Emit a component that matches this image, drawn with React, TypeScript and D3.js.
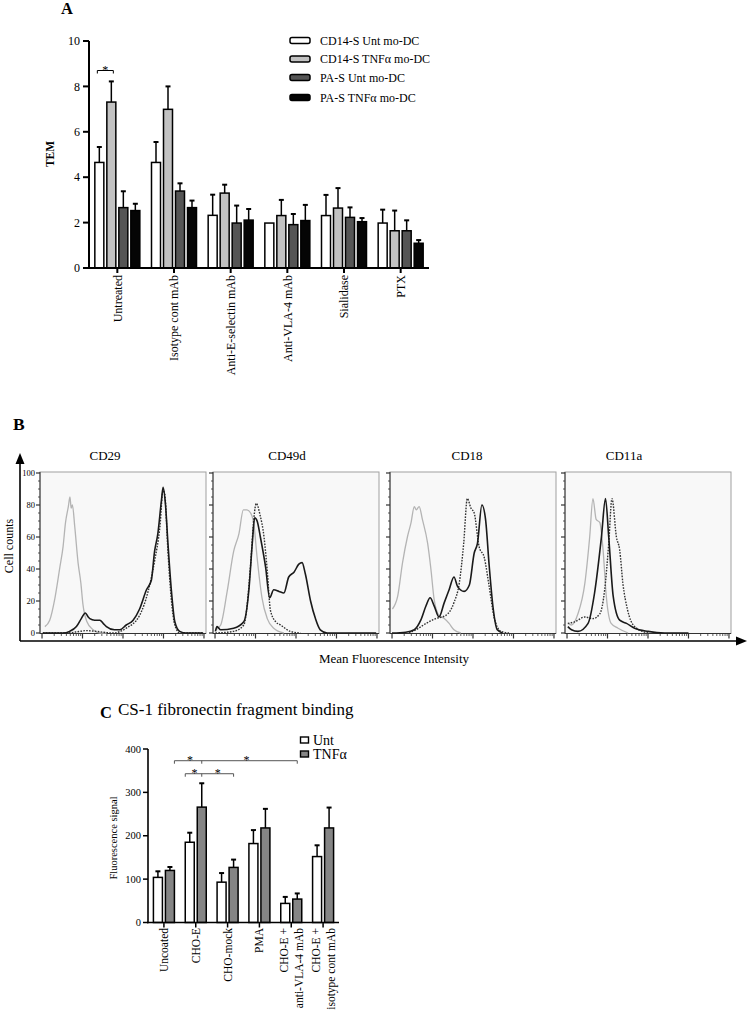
import React from "react";
import * as d3 from "d3";

const FONT = "'Liberation Serif','Times New Roman',Times,serif";

// ---------------- Panel A data ----------------
const aCategories = ["Untreated", "Isotype cont mAb", "Anti-E-selectin mAb", "Anti-VLA-4 mAb", "Sialidase", "PTX"];
const aSeries = ["CD14-S Unt mo-DC", "CD14-S TNFα mo-DC", "PA-S Unt mo-DC", "PA-S TNFα mo-DC"];
const aColors = ["#ffffff", "#c2c2c2", "#555555", "#050505"];
const aCd14Unt = [4.65, 4.65, 2.32, 1.98, 2.31, 1.98];
const aCd14Tnf = [7.31, 6.99, 3.3, 2.31, 2.64, 1.64];
const aPaUnt = [2.66, 3.39, 1.98, 1.91, 2.23, 1.64];
const aPaTnf = [2.53, 2.66, 2.11, 2.09, 2.04, 1.09];
const aCd14UntErr = [0.68, 0.9, 0.91, 0, 0.91, 0.59];
const aCd14TnfErr = [0.91, 1.01, 0.37, 0.69, 0.88, 0.89];
const aPaUntErr = [0.72, 0.34, 0.77, 0.47, 0.44, 0.46];
const aPaTnfErr = [0.3, 0.31, 0.49, 0.69, 0.16, 0.14];
const aYTicks = [0, 2, 4, 6, 8, 10];

// ---------------- Panel B data (x in log decades, y = cell counts) ----------------
const bPanels = ["CD29", "CD49d", "CD18", "CD11a"];
const bYTicks = [0, 20, 40, 60, 80, 100];
type P = [number, number];
const cd29Gray: P[] = [[0.07, 4], [0.19, 8], [0.32, 22], [0.44, 41], [0.52, 54], [0.58, 69], [0.65, 79], [0.69, 85], [0.72, 78], [0.75, 80], [0.81, 66], [0.89, 44], [0.96, 31], [1.01, 18], [1.11, 7], [1.26, 2], [1.43, 0], [1.6, 0]];
const cd29Solid: P[] = [[0.02, 0], [0.52, 0], [0.68, 1], [0.85, 4], [0.97, 9], [1.07, 12.5], [1.14, 10], [1.18, 9], [1.3, 8], [1.43, 8], [1.51, 6], [1.59, 4], [1.79, 2], [1.92, 2], [2.08, 5], [2.25, 8], [2.41, 15], [2.58, 27], [2.7, 33], [2.78, 51], [2.86, 62], [2.95, 83], [2.99, 91], [3.05, 80], [3.11, 56], [3.19, 28], [3.28, 7], [3.4, 1], [3.56, 0], [3.98, 0]];
const cd29Dotted: P[] = [[0.02, 0], [0.6, 0], [0.93, 1], [1.09, 1.5], [1.34, 1], [1.75, 0], [2.08, 3], [2.41, 11], [2.62, 26], [2.78, 45], [2.91, 66], [2.99, 89], [3.03, 87], [3.11, 51], [3.19, 22], [3.28, 5], [3.4, 0], [3.98, 0]];
const cd49dGray: P[] = [[0.02, 2], [0.14, 5], [0.3, 26], [0.46, 51], [0.59, 62], [0.7, 77], [0.79, 77], [0.88, 75], [0.96, 68], [1.04, 47], [1.16, 22], [1.29, 9], [1.45, 3], [1.7, 0]];
const cd49dSolid: P[] = [[0.01, 1], [0.05, 4], [0.14, 2], [0.46, 3], [0.71, 7], [0.84, 28], [0.92, 56], [0.98, 72], [1.04, 70], [1.12, 60], [1.25, 41], [1.35, 22], [1.45, 27], [1.58, 26], [1.7, 25], [1.82, 35], [1.95, 38], [2.07, 43], [2.15, 44], [2.23, 37], [2.36, 20], [2.48, 9], [2.6, 2], [2.77, 0], [3.98, 0]];
const cd49dDotted: P[] = [[0.01, 0], [0.46, 1], [0.71, 5], [0.88, 43], [0.96, 72], [1.02, 81], [1.11, 74], [1.21, 60], [1.29, 39], [1.37, 14], [1.5, 7], [1.62, 5], [1.86, 1], [2.11, 0]];
const cd18Gray: P[] = [[0.01, 15], [0.14, 23], [0.26, 44], [0.38, 60], [0.47, 69], [0.55, 79], [0.6, 77], [0.67, 79], [0.75, 71], [0.88, 56], [0.96, 40], [1.04, 21], [1.16, 11], [1.29, 9], [1.41, 6], [1.53, 2], [1.7, 0]];
const cd18Solid: P[] = [[0.0, 0], [0.34, 0.5], [0.55, 2], [0.71, 8], [0.84, 17], [0.94, 22], [1.04, 17], [1.16, 10], [1.29, 19], [1.41, 27], [1.53, 35], [1.62, 29], [1.78, 26], [1.91, 30], [2.03, 50], [2.11, 56], [2.22, 80], [2.31, 71], [2.4, 42], [2.5, 15], [2.6, 2], [2.73, 0]];
const cd18Dotted: P[] = [[0.42, 0], [0.59, 2], [0.84, 6], [1.08, 9], [1.33, 11], [1.53, 19], [1.66, 31], [1.77, 56], [1.86, 84], [1.95, 78], [2.03, 75], [2.15, 54], [2.28, 47], [2.4, 29], [2.52, 10], [2.69, 1], [2.89, 0]];
const cd11aGray: P[] = [[0.02, 6], [0.11, 5], [0.27, 12], [0.44, 31], [0.56, 60], [0.64, 84], [0.72, 71], [0.81, 69], [0.89, 52], [0.97, 23], [1.09, 6], [1.26, 3], [1.51, 0]];
const cd11aSolid: P[] = [[0.02, 4], [0.11, 2], [0.27, 1], [0.52, 6], [0.68, 25], [0.85, 60], [0.95, 84], [1.03, 60], [1.14, 23], [1.3, 8], [1.47, 6], [1.67, 3], [2.0, 1], [2.41, 0], [3.0, 0]];
const cd11aDotted: P[] = [[0.02, 6], [0.19, 7], [0.44, 10], [0.64, 9], [0.81, 12], [0.93, 27], [1.03, 56], [1.11, 84], [1.22, 60], [1.3, 52], [1.38, 31], [1.49, 15], [1.67, 4], [2.0, 0]];
const bGray = [cd29Gray, cd49dGray, cd18Gray, cd11aGray];
const bSolid = [cd29Solid, cd49dSolid, cd18Solid, cd11aSolid];
const bDotted = [cd29Dotted, cd49dDotted, cd18Dotted, cd11aDotted];

// ---------------- Panel C data ----------------
const cCategories = ["Uncoated", "CHO-E", "CHO-mock", "PMA", "CHO-E + anti-VLA-4 mAb", "CHO-E + isotype cont mAb"];
const cLabelLines = [["Uncoated"], ["CHO-E"], ["CHO-mock"], ["PMA"], ["CHO-E +", "anti-VLA-4 mAb"], ["CHO-E +", "isotype cont mAb"]];
const cSeries = ["Unt", "TNFα"];
const cUnt = [104, 185, 93, 182, 44, 152];
const cUntErr = [14, 22, 21, 31, 15, 26];
const cTnf = [120, 266, 127, 218, 54, 218];
const cTnfErr = [8, 55, 18, 44, 13, 47];
const cYTicks = [0, 100, 200, 300, 400];

function ErrBar({ cx, y0, y1, cap }: { cx: number; y0: number; y1: number; cap: number }) {
  return (
    <g>
      <line x1={cx} x2={cx} y1={y0} y2={y1} stroke="#000" strokeWidth={1.5} />
      <line x1={cx - cap} x2={cx + cap} y1={y1} y2={y1} stroke="#000" strokeWidth={2} />
    </g>
  );
}

function PanelA() {
  const x = d3.scaleBand<string>().domain(aCategories).range([89, 429]);
  const y = d3.scaleLinear().domain([0, 10]).range([268, 41]);
  const series = [aCd14Unt, aCd14Tnf, aPaUnt, aPaTnf];
  const errs = [aCd14UntErr, aCd14TnfErr, aPaUntErr, aPaTnfErr];
  const bw = 9;
  const step = 12;
  const cOf = (c: string) => (x(c) as number) + x.bandwidth() / 2;
  const c0 = cOf(aCategories[0]);
  return (
    <g>
      <text x={61} y={14} fontSize={16.5} fontWeight="bold">A</text>
      {series.map((vals, si) =>
        vals.map((v, ci) => {
          const bx = cOf(aCategories[ci]) - 22.5 + si * step;
          const e = errs[si][ci];
          return (
            <g key={`a${si}-${ci}`}>
              {e > 0 && <ErrBar cx={bx + bw / 2} y0={y(v)} y1={y(v + e)} cap={2.5} />}
              <rect x={bx} y={y(v)} width={bw} height={y(0) - y(v)} fill={aColors[si]} stroke="#000" strokeWidth={1.5} />
            </g>
          );
        })
      )}
      {/* axes */}
      <line x1={89} x2={89} y1={y(0) + 1} y2={y(10)} stroke="#000" strokeWidth={2} />
      {aYTicks.map((t) => (
        <g key={`ay${t}`}>
          <line x1={83} x2={89} y1={y(t)} y2={y(t)} stroke="#000" strokeWidth={2} />
          <text x={80} y={y(t)} dy="0.35em" fontSize={12} textAnchor="end">{t}</text>
        </g>
      ))}
      <line x1={88} x2={429} y1={y(0)} y2={y(0)} stroke="#000" strokeWidth={2} />
      {aCategories.map((c) => (
        <g key={`ax${c}`}>
          <line x1={cOf(c)} x2={cOf(c)} y1={y(0)} y2={y(0) + 5} stroke="#000" strokeWidth={2} />
          <text transform={`translate(${cOf(c)},275) rotate(-90)`} dy="0.35em" fontSize={12} textAnchor="end">{c}</text>
        </g>
      ))}
      <text transform={`translate(50,154) rotate(-90)`} dy="0.35em" fontSize={11.5} fontWeight="bold" textAnchor="middle">TEM</text>
      {/* significance */}
      {(() => {
        const x1 = c0 - 22.5 + bw / 2 - 2;
        const x2 = c0 - 22.5 + step + bw / 2 + 2;
        const by = y(8.7);
        return (
          <g>
            <path d={`M${x1},${by + 3}V${by}H${x2}V${by + 3}`} fill="none" stroke="#000" strokeWidth={1} />
            <text x={(x1 + x2) / 2} y={by + 3.5} fontSize={12} textAnchor="middle">*</text>
          </g>
        );
      })()}
      {/* legend */}
      {aSeries.map((s, i) => {
        const ry = [40.5, 59, 77.5, 97.5][i];
        return (
          <g key={`al${i}`}>
            <rect x={290} y={ry - 3} width={20} height={6} rx={2} fill={aColors[i]} stroke="#000" strokeWidth={1.5} />
            <text x={320} y={ry} dy="0.35em" fontSize={12}>{s}</text>
          </g>
        );
      })}
    </g>
  );
}

function PanelB() {
  const lefts = [40, 213, 390, 565];
  const titleX = [105, 287, 467, 624];
  const W = 166;
  const top = 472;
  const bottom = 633.5;
  const y = d3.scaleLinear().domain([0, 100]).range([633, 473]);
  const minorY = d3.range(0, 101, 5);
  return (
    <g>
      <text x={13} y={430} fontSize={17.5} fontWeight="bold">B</text>
      {bPanels.map((name, pi) => {
        const L = lefts[pi];
        const x = d3.scaleLinear().domain([-0.05, 4.05]).range([L, L + W]);
        const line = d3
          .line<P>()
          .x((p) => x(p[0]))
          .y((p) => y(p[1]))
          .curve(d3.curveMonotoneX);
        const xMinor: number[] = [];
        for (let dec = 0; dec < 4; dec++) for (let k = 2; k <= 9; k++) xMinor.push(dec + Math.log10(k));
        return (
          <g key={name}>
            <text x={titleX[pi]} y={460} fontSize={13} textAnchor="middle">{name}</text>
            <rect x={L} y={top} width={W} height={bottom - top} fill="#f8f8f8" stroke="#a0a0a0" strokeWidth={1} />
            <line x1={L} x2={L} y1={top} y2={bottom} stroke="#333" strokeWidth={1} />
            <line x1={L} x2={L + W} y1={bottom} y2={bottom} stroke="#333" strokeWidth={1} />
            {minorY.map((t) => (
              <line key={`by${t}`} x1={L - (t % 20 === 0 ? 4 : 2)} x2={L} y1={y(t)} y2={y(t)} stroke="#333" strokeWidth={t % 20 === 0 ? 1.2 : 0.8} />
            ))}
            {pi === 0 &&
              bYTicks.map((t) => (
                <text key={`byl${t}`} x={35} y={y(t)} dy="0.35em" fontSize={8.5} textAnchor="end">{t}</text>
              ))}
            {[0, 1, 2, 3, 4].map((d) => (
              <line key={`bx${d}`} x1={x(d)} x2={x(d)} y1={bottom} y2={bottom + 5} stroke="#333" strokeWidth={1.2} />
            ))}
            {xMinor.map((d, i) => (
              <line key={`bxm${i}`} x1={x(d)} x2={x(d)} y1={bottom} y2={bottom + 2.5} stroke="#333" strokeWidth={0.8} />
            ))}
            <path d={line(bGray[pi]) || ""} fill="none" stroke="#b4b4b4" strokeWidth={1.3} />
            <path d={line(bDotted[pi]) || ""} fill="none" stroke="#333" strokeWidth={1.4} strokeDasharray="1.6 1.3" />
            <path d={line(bSolid[pi]) || ""} fill="none" stroke="#1a1a1a" strokeWidth={1.6} />
          </g>
        );
      })}
      {/* big axes with arrows */}
      <line x1={20} x2={20} y1={641} y2={462} stroke="#000" strokeWidth={1.6} />
      <path d="M20,453L15.5,464L24.5,464Z" fill="#000" />
      <line x1={20} x2={737} y1={641} y2={641} stroke="#000" strokeWidth={1.6} />
      <path d="M747,641L736,636.5L736,645.5Z" fill="#000" />
      <text transform="translate(9,546) rotate(-90)" dy="0.35em" fontSize={12} textAnchor="middle">Cell counts</text>
      <text x={394} y={663} fontSize={13} textAnchor="middle">Mean Fluorescence Intensity</text>
    </g>
  );
}

function PanelC() {
  const x = d3.scaleBand<string>().domain(cCategories).range([148, 339]);
  const y = d3.scaleLinear().domain([0, 400]).range([922.5, 749]);
  const bw = 9;
  const cOf = (i: number) => (x(cCategories[i]) as number) + x.bandwidth() / 2;
  const colors = ["#ffffff", "#858585"];
  const vals = [cUnt, cTnf];
  const errs = [cUntErr, cTnfErr];
  const offs = [-10.5, 1.5];
  const up = y(373);
  const lo = y(343);
  const uL = cOf(0) + 1.5 + bw;
  const uM = cOf(1) + 1.5 + bw / 2;
  const uR = cOf(4) + 1.5 + bw / 2;
  const lL = cOf(1) - 10.5;
  const lR = cOf(2) + 1.5 + bw / 2;
  return (
    <g>
      <text x={100} y={718} fontSize={16.5} fontWeight="bold">C</text>
      <text x={118} y={715} fontSize={17}>CS-1 fibronectin fragment binding</text>
      {vals.map((vs, si) =>
        vs.map((v, ci) => {
          const bx = cOf(ci) + offs[si];
          return (
            <g key={`c${si}-${ci}`}>
              <ErrBar cx={bx + bw / 2} y0={y(v)} y1={y(v + errs[si][ci])} cap={2.5} />
              <rect x={bx} y={y(v)} width={bw} height={y(0) - y(v)} fill={colors[si]} stroke="#000" strokeWidth={1.5} />
            </g>
          );
        })
      )}
      <line x1={148} x2={148} y1={y(0) + 0.8} y2={y(400)} stroke="#000" strokeWidth={1.6} />
      {cYTicks.map((t) => (
        <g key={`cy${t}`}>
          <line x1={143} x2={148} y1={y(t)} y2={y(t)} stroke="#000" strokeWidth={1.5} />
          <text x={141} y={y(t)} dy="0.35em" fontSize={10.5} textAnchor="end">{t}</text>
        </g>
      ))}
      <line x1={147} x2={339} y1={y(0)} y2={y(0)} stroke="#000" strokeWidth={1.6} />
      {cCategories.map((c, i) => (
        <g key={`cx${i}`}>
          <line x1={cOf(i)} x2={cOf(i)} y1={y(0)} y2={y(0) + 5} stroke="#000" strokeWidth={1.5} />
          <text
            transform={`translate(${cOf(i) - (cLabelLines[i].length - 1) * 7.5},928) rotate(-90)`}
            dy="0.35em"
            fontSize={11.5}
            textAnchor="end"
          >
            {cLabelLines[i].map((ln, li) => (
              <tspan key={li} x={0} dy={li === 0 ? "0.35em" : "1.3em"}>{ln}</tspan>
            ))}
          </text>
        </g>
      ))}
      <text transform="translate(113,838) rotate(-90)" dy="0.35em" fontSize={10.5} textAnchor="middle">Fluorescence signal</text>
      {/* significance brackets */}
      <path d={`M${uL},${up + 3}V${up}H${uR}V${up + 3}M${uM},${up}V${up + 3}`} fill="none" stroke="#555" strokeWidth={1} />
      <text x={(uL + uM) / 2 + 2} y={up + 3.5} fontSize={12} textAnchor="middle">*</text>
      <text x={(uM + uR) / 2 - 3} y={up + 3.5} fontSize={12} textAnchor="middle">*</text>
      <path d={`M${lL},${lo + 3}V${lo}H${lR}V${lo + 3}M${uM},${lo}V${lo + 3}`} fill="none" stroke="#555" strokeWidth={1} />
      <text x={(lL + uM) / 2 + 1} y={lo + 3.5} fontSize={12} textAnchor="middle">*</text>
      <text x={(uM + lR) / 2} y={lo + 3.5} fontSize={12} textAnchor="middle">*</text>
      {/* legend */}
      {cSeries.map((s, i) => {
        const ry = [740, 754][i];
        return (
          <g key={`cl${i}`}>
            <rect x={300.5} y={ry - 3} width={8} height={6} fill={colors[i]} stroke="#000" strokeWidth={1.4} />
            <text x={313} y={ry} dy="0.35em" fontSize={14}>{s}</text>
          </g>
        );
      })}
    </g>
  );
}

export default function App() {
  return (
    <svg
      width={748}
      height={1019}
      style={{ position: "absolute", left: 0, top: 0, display: "block" }}
      fontFamily={FONT}
    >
      <rect width={748} height={1019} fill="#fff" />
      <PanelA />
      <PanelB />
      <PanelC />
    </svg>
  );
}
